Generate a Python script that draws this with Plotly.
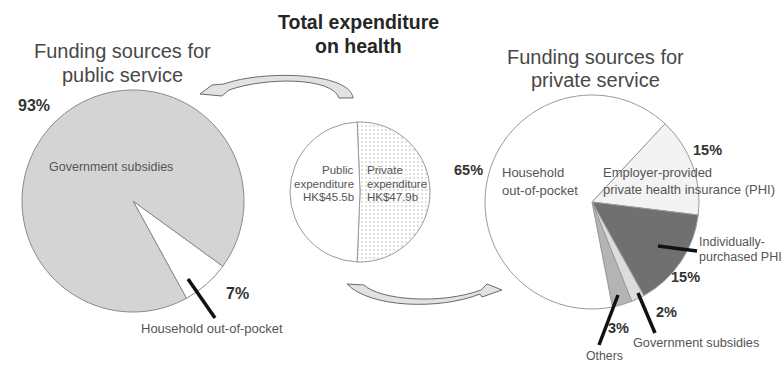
import plotly.graph_objects as go

W, H = 784, 365

# Funding sources for public service (% share)
public_labels = ["Household out-of-pocket", "Government subsidies"]
public_shares = [7, 93]

# Total expenditure on health (HK$ billion)
total_labels = ["Private expenditure", "Public expenditure"]
total_hkd_bn = [47.9, 45.5]

# Funding sources for private service (% share)
private_labels = [
    "Employer-provided private health insurance (PHI)",
    "Individually-purchased PHI",
    "Government subsidies",
    "Others",
    "Household out-of-pocket",
]
private_shares = [15, 15, 2, 3, 65]

FONT = "Liberation Sans, Arial, sans-serif"


def px(x):
    return x / W


def py(y):
    return 1 - y / H


def disc(cx, cy, r):
    """Pie domain for a disc centred at (cx, cy) pixels with radius r."""
    return dict(x=[px(cx - r), px(cx + r)], y=[py(cy + r), py(cy - r)])


fig = go.Figure()

fig.add_trace(go.Pie(
    labels=public_labels, values=public_shares,
    domain=disc(133, 201, 111),
    sort=False, direction="clockwise", rotation=126,
    marker=dict(colors=["#ffffff", "#d4d4d4"], line=dict(color="#8a8a8a", width=1)),
    textinfo="none", hoverinfo="label+percent", showlegend=False,
))

fig.add_trace(go.Pie(
    labels=total_labels, values=total_hkd_bn,
    domain=disc(360, 192, 70),
    sort=False, direction="clockwise", rotation=-2.3,
    marker=dict(
        colors=["#e8e8e8", "#ffffff"],
        line=dict(color="#9a9a9a", width=1),
        pattern=dict(shape=[".", ""], fgcolor="#d6d6d6", size=4, solidity=0.2),
    ),
    textinfo="none", hoverinfo="label+value", showlegend=False,
))

fig.add_trace(go.Pie(
    labels=private_labels, values=private_shares,
    domain=disc(592, 202, 107),
    sort=False, direction="clockwise", rotation=43,
    marker=dict(colors=["#f3f3f3", "#707070", "#dcdcdc", "#b4b4b4", "#ffffff"],
                line=dict(color="#9a9a9a", width=1)),
    textinfo="none", hoverinfo="label+percent", showlegend=False,
))

annotations = []


def label(text, x, y, size=13, bold=False, anchor="center", color="#555555"):
    annotations.append(dict(
        text=f"<b>{text}</b>" if bold else text,
        x=px(x), y=py(y), xref="paper", yref="paper",
        xanchor=anchor, yanchor="middle", showarrow=False,
        font=dict(family=FONT, size=size, color=color),
    ))


# Titles
label("Funding sources for", 122, 51, 20, color="#484848")
label("public service", 122, 75, 20, color="#484848")
label("Total expenditure", 358, 22, 19.5, bold=True, color="#262626")
label("on health", 358, 46, 19.5, bold=True, color="#262626")
label("Funding sources for", 595, 57, 20, color="#484848")
label("private service", 595, 80, 20, color="#484848")

# Public service pie
label(f"{public_shares[1]}%", 34, 106, 16, bold=True, color="#333333")
label(public_labels[1], 111, 167, 12.5)
label(f"{public_shares[0]}%", 237, 293, 16, bold=True, color="#333333")
label(public_labels[0], 212, 328, 13)

# Total expenditure pie
for i, line in enumerate(["Public", "expenditure", f"HK${total_hkd_bn[1]}b"]):
    label(line, 356, 170 + 13.5 * i, 11.5, anchor="right")
for i, line in enumerate(["Private", "expenditure", f"HK${total_hkd_bn[0]}b"]):
    label(line, 365, 170 + 13.5 * i, 11.5, anchor="left")

# Private service pie
label(f"{private_shares[4]}%", 468, 170, 14.5, bold=True, color="#333333")
label("Household", 500, 173, 13, anchor="left")
label("out-of-pocket", 500, 190, 13, anchor="left")
label(f"{private_shares[0]}%", 707, 150, 14.5, bold=True, color="#333333")
label("Employer-provided", 601, 173, 13, anchor="left")
label("private health insurance (PHI)", 601, 189, 13, anchor="left")
label("Individually-", 697, 242, 12.5, anchor="left")
label("purchased PHI", 697, 257, 12.5, anchor="left")
label(f"{private_shares[1]}%", 685, 277, 14.5, bold=True, color="#333333")
label(f"{private_shares[2]}%", 666, 312, 14.5, bold=True, color="#333333")
label(f"{private_shares[3]}%", 618, 328, 14.5, bold=True, color="#333333")
label(private_labels[2], 696, 343, 12.7)
label(private_labels[3], 604, 356, 12.3)

shapes = []


def pointer(x0, y0, x1, y1):
    shapes.append(dict(type="line", xref="paper", yref="paper",
                       x0=px(x0), y0=py(y0), x1=px(x1), y1=py(y1),
                       line=dict(color="#111111", width=3.5)))


pointer(188, 279, 215, 318)
pointer(658, 246, 697, 251)
pointer(638, 293, 655, 333)
pointer(618, 295, 599, 345)


def path(cmds):
    parts = []
    for cmd, pts in cmds:
        coords = " ".join(f"{px(x):.5f},{py(y):.5f}" for x, y in pts)
        parts.append(f"{cmd} {coords}" if pts else cmd)
    return " ".join(parts)


# Curved arrow from total expenditure to public service
shapes.append(dict(
    type="path", xref="paper", yref="paper",
    path=path([
        ("M", [(353, 98)]),
        ("C", [(350, 72), (262, 70), (224, 84)]),
        ("L", [(212, 85)]),
        ("L", [(200, 94)]),
        ("L", [(222, 96)]),
        ("L", [(229, 90)]),
        ("C", [(266, 77), (332, 77), (339, 98)]),
        ("Z", []),
    ]),
    fillcolor="#e2e2e2", line=dict(color="#6a6a6a", width=1),
))

# Curved arrow from total expenditure to private service
shapes.append(dict(
    type="path", xref="paper", yref="paper",
    path=path([
        ("M", [(347, 284)]),
        ("L", [(364, 285)]),
        ("C", [(380, 300), (440, 305), (481, 290)]),
        ("L", [(487, 284)]),
        ("L", [(502, 290)]),
        ("L", [(482, 297)]),
        ("L", [(480, 294)]),
        ("C", [(440, 310), (370, 308), (347, 284)]),
        ("Z", []),
    ]),
    fillcolor="#e2e2e2", line=dict(color="#6a6a6a", width=1),
))

fig.update_layout(
    width=W, height=H,
    margin=dict(l=0, r=0, t=0, b=0),
    paper_bgcolor="#ffffff", plot_bgcolor="#ffffff",
    showlegend=False,
    annotations=annotations,
    shapes=shapes,
)

fig.write_html("out.html")
